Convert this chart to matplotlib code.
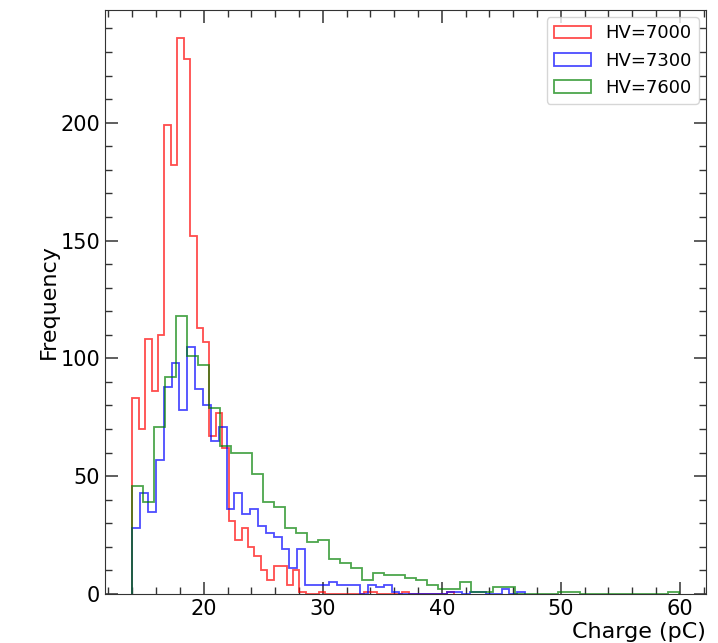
import numpy as np
import matplotlib
matplotlib.use("Agg")
import matplotlib.pyplot as plt
from matplotlib.ticker import MultipleLocator

labels = ["HV=7000", "HV=7300", "HV=7600"]
colors = ["red", "blue", "green"]
range_min = [14.0, 14.0, 14.0]
range_max = [41.0, 47.0, 59.9]
n_bins = 50

counts_7000 = [83, 70, 108, 86, 110, 199, 182, 236, 227, 152,
               113, 107, 67, 77, 62, 31, 23, 28, 20, 16,
               10, 6, 12, 12, 4, 10, 1, 0, 0, 1,
               0, 0, 0, 0, 0, 0, 1, 1, 0, 0,
               0, 0, 1, 0, 0, 0, 0, 0, 0, 1]
counts_7300 = [28, 43, 35, 57, 88, 98, 78, 105, 87, 80,
               65, 71, 36, 43, 34, 36, 29, 26, 24, 19,
               11, 19, 4, 4, 4, 5, 4, 4, 4, 0,
               4, 3, 4, 1, 0, 0, 0, 0, 0, 0,
               1, 1, 0, 1, 1, 0, 0, 2, 0, 1]
counts_7600 = [46, 39, 71, 92, 118, 101, 97, 79, 63, 60,
               60, 51, 39, 37, 28, 26, 22, 23, 15, 13,
               11, 6, 9, 8, 8, 7, 6, 4, 2, 2,
               5, 1, 1, 3, 3, 0, 0, 0, 0, 1,
               1, 0, 0, 0, 0, 0, 0, 0, 0, 1]
all_counts = [counts_7000, counts_7300, counts_7600]

fig = plt.figure(figsize=(7.18, 6.43), dpi=100)
ax = fig.add_axes([0.1462, 0.0762, 0.8371, 0.9082])

for cnt, lab, col, lo, hi in zip(all_counts, labels, colors, range_min, range_max):
    edges = np.linspace(lo, hi, n_bins + 1)
    ax.hist(edges[:-1], bins=edges, weights=cnt, histtype="step",
            color=col, alpha=0.7, linewidth=1.3, label=lab)

ax.xaxis.set_major_locator(MultipleLocator(10))
ax.xaxis.set_minor_locator(MultipleLocator(2))
ax.yaxis.set_major_locator(MultipleLocator(50))
ax.yaxis.set_minor_locator(MultipleLocator(10))
ax.tick_params(which="both", direction="in", top=True, right=True, colors="#333333",
               labelcolor="black", labelsize=15)
ax.tick_params(which="major", length=9, width=1.1)
ax.tick_params(which="minor", length=5, width=1.0)
for s in ax.spines.values():
    s.set_color("#333333")

ax.set_xlabel("Charge (pC)", fontsize=16, loc="right", labelpad=2)
ax.set_ylabel("Frequency", fontsize=16, labelpad=1)
ax.legend(loc="upper right", fontsize=13, handlelength=2.05, borderaxespad=0.4)

fig.savefig("out.png", dpi=100)
